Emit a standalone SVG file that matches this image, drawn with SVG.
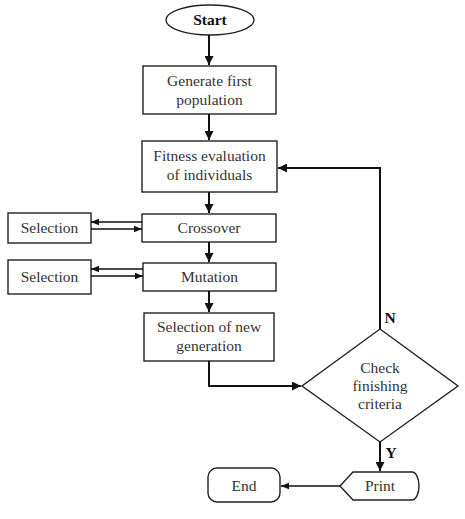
<svg xmlns="http://www.w3.org/2000/svg" width="465" height="519" viewBox="0 0 465 519">
<defs>
<marker id="ah" viewBox="0 0 10 10" refX="10" refY="5" markerWidth="9" markerHeight="9" markerUnits="userSpaceOnUse" orient="auto">
<path d="M0,0 L10,5 L0,10 z" fill="#111"/>
</marker>
<marker id="ahs" viewBox="0 0 10 10" refX="10" refY="5" markerWidth="8" markerHeight="8" markerUnits="userSpaceOnUse" orient="auto">
<path d="M0,1 L10,5 L0,9 z" fill="#111"/>
</marker>
</defs>
<style>
.box{fill:#fff;stroke:#222;stroke-width:1.4}
.t{font-family:"Liberation Serif","Times New Roman",serif;font-size:15.5px;fill:#333;text-anchor:middle}
.b{font-weight:bold;fill:#111}
.c{fill:none;stroke:#111;stroke-width:2}
.c1{fill:none;stroke:#111;stroke-width:1.4}
</style>
<rect width="465" height="519" fill="#fff"/>
<g id="start"><ellipse class="box" cx="210" cy="20" rx="44" ry="15"/><text class="t b" x="210" y="25">Start</text></g>
<g id="generate"><rect class="box" x="143" y="66" width="133" height="48"/><text class="t" x="209.5" y="86">Generate first</text><text class="t" x="209.5" y="105">population</text></g>
<g id="fitness"><rect class="box" x="142" y="141" width="135" height="51"/><text class="t" x="209.5" y="161">Fitness evaluation</text><text class="t" x="209.5" y="180">of individuals</text></g>
<g id="crossover"><rect class="box" x="142" y="214" width="134" height="28"/><text class="t" x="209" y="233">Crossover</text></g>
<g id="selection1"><rect class="box" x="8" y="213" width="83" height="30"/><text class="t" x="49.5" y="233">Selection</text></g>
<g id="mutation"><rect class="box" x="143" y="263" width="133" height="28"/><text class="t" x="209.5" y="282">Mutation</text></g>
<g id="selection2"><rect class="box" x="8" y="260" width="83" height="34"/><text class="t" x="49.5" y="282">Selection</text></g>
<g id="selnew"><rect class="box" x="144" y="313" width="130" height="48"/><text class="t" x="209" y="332">Selection of new</text><text class="t" x="209" y="351">generation</text></g>
<g id="check"><polygon class="box" points="380,329 458,386 380,442 302,386"/><text class="t" x="380" y="373">Check</text><text class="t" x="380" y="391">finishing</text><text class="t" x="380" y="409">criteria</text></g>
<g id="print"><path class="box" d="M340,486 L353,472 L412,472 A7,14 0 0 1 412,500 L353,500 Z"/><text class="t" x="380" y="491">Print</text></g>
<g id="end"><rect class="box" x="208" y="468" width="72" height="34" rx="9"/><text class="t" x="244" y="491">End</text></g>
<g id="connectors">
<line class="c" x1="209" y1="35" x2="209" y2="65" marker-end="url(#ah)"/>
<line class="c" x1="209" y1="114" x2="209" y2="140" marker-end="url(#ah)"/>
<line class="c" x1="209" y1="192" x2="209" y2="213" marker-end="url(#ah)"/>
<line class="c" x1="209" y1="242" x2="209" y2="262" marker-end="url(#ah)"/>
<line class="c" x1="209" y1="291" x2="209" y2="312" marker-end="url(#ah)"/>
<polyline class="c1" points="142,222 91,222" marker-end="url(#ahs)"/>
<polyline class="c1" points="91,229 142,229" marker-end="url(#ahs)"/>
<polyline class="c1" points="143,269 91,269" marker-end="url(#ahs)"/>
<polyline class="c1" points="91,276 143,276" marker-end="url(#ahs)"/>
<polyline class="c" points="209,361 209,386 301,386" stroke-width="3" marker-end="url(#ah)"/>
<polyline class="c" points="380,329 380,168 278,168" marker-end="url(#ah)"/>
<line class="c" x1="380" y1="442" x2="380" y2="471" marker-end="url(#ah)"/>
<line class="c1" x1="340" y1="486" x2="281" y2="486" marker-end="url(#ahs)"/>
<text class="t b" x="390" y="323">N</text>
<text class="t b" x="391" y="458">Y</text>
</g>
</svg>
